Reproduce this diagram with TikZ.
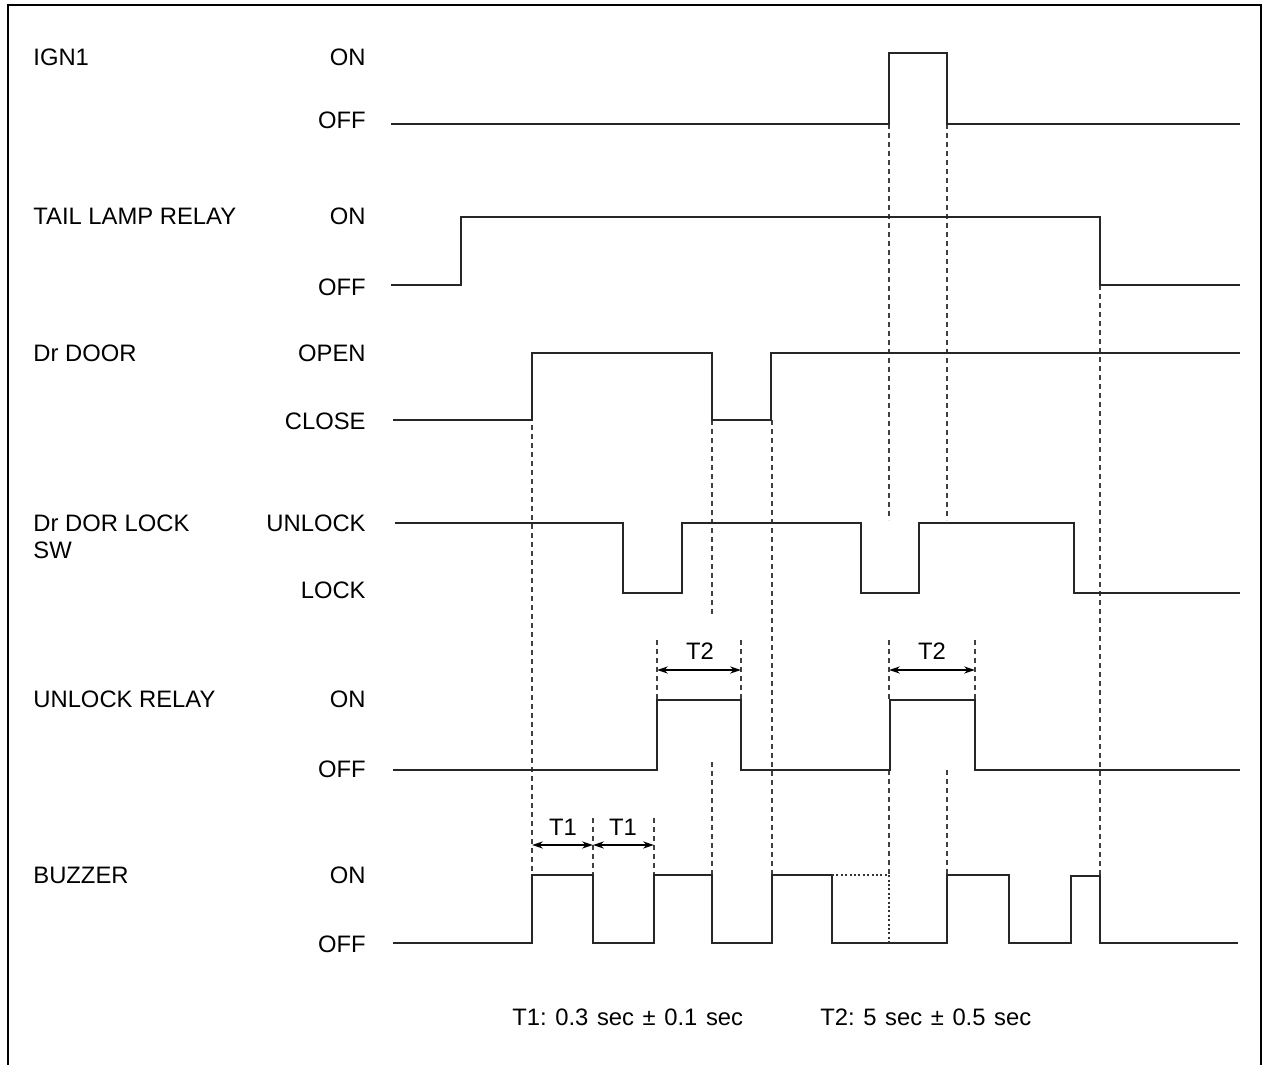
\documentclass[tikz,border=0pt]{standalone}
\usepackage{fontspec}
\setmainfont{Liberation Sans}
\usetikzlibrary{arrows.meta}
\frenchspacing

\begin{document}
\begin{tikzpicture}[x=0.5pt,y=-0.5pt]

    \def\lbl{\fontsize{11.9}{13.5}\selectfont}
    \def\wide{\spaceskip=4.3pt\relax}

    % Styles for the signal traces, guides and time spans
    \tikzset{
        signal/.style={line width=1.3pt, line join=miter, black!85},
        guide/.style={line width=0.9pt, gray!50!black,
            dash pattern=on 2.5pt off 2pt},
        dots/.style={line width=1.1pt, black!80,
            dash pattern=on 1pt off 1.2pt},
        span/.style={line width=0.7pt,
            {Stealth[length=5.5pt,width=3.6pt]}-{Stealth[length=5.5pt,width=3.6pt]}},
        sig/.style={anchor=west, inner sep=0pt, font=\lbl,
            text height=8.5pt, text depth=0pt},
        lvl/.style={anchor=east, inner sep=0pt, font=\lbl,
            text height=8.5pt, text depth=0pt},
        tlbl/.style={inner sep=0pt, font=\lbl,
            text height=8.5pt, text depth=0pt},
        legend/.style={tlbl, anchor=west}
    }

    \useasboundingbox (0,0) rectangle (1266,1065);

    % Frame
    \draw[line width=1.1pt] (8,1070) -- (8,5) -- (1261,5) -- (1261,1070);

    % Signal names
    \node[sig] (ign) at (33,57) {IGN1};
    \node[sig] (tail) at (33,216) {TAIL LAMP RELAY};
    \node[sig] (door) at (33,353) {Dr DOOR};
    \node[sig, anchor=north west, align=left, text height=] (lock)
        at (33,514.5) {Dr DOR LOCK\\SW};
    \node[sig] (relay) at (33,699) {UNLOCK RELAY};
    \node[sig] (buzz) at (33,875) {BUZZER};

    % Levels
    \node[lvl] (ignon) at (366,57) {ON};
    \node[lvl] (ignoff) at (366,120) {OFF};
    \node[lvl] (tailon) at (366,216) {ON};
    \node[lvl] (tailoff) at (366,287) {OFF};
    \node[lvl] (dooropen) at (366,353) {OPEN};
    \node[lvl] (doorclose) at (366,421) {CLOSE};
    \node[lvl] (unlock) at (366,523) {UNLOCK};
    \node[lvl] (lockd) at (366,590) {LOCK};
    \node[lvl] (relayon) at (366,699) {ON};
    \node[lvl] (relayoff) at (366,769) {OFF};
    \node[lvl] (buzzon) at (366,875) {ON};
    \node[lvl] (buzzoff) at (366,944) {OFF};

    % Guides
    \foreach \x/\ya/\yb in {532/353/875, 593/818/875, 654/818/875,
        657/640/700, 741/640/700, 712/420/617, 712/762/875,
        772/420/875, 889/124/520, 889/640/700, 889/770/875,
        947/124/520, 947/770/875, 975/640/700, 1100/285/875}
        \draw[guide] (\x,\ya) -- (\x,\yb);

    % Traces
    \draw[signal] (391,124) -| (889,53) -| (947,124) -- (1240,124);
    \draw[signal] (391,285) -| (461,217) -| (1100,285) -- (1240,285);
    \draw[signal] (393,420) -| (532,353) -| (712,420) -| (771,353)
        -- (1240,353);
    \draw[signal] (395,523) -| (623,593) -| (682,523) -| (861,593)
        -| (919,523) -| (1074,593) -- (1240,593);
    \draw[signal] (393,770) -| (657,700) -| (741,770) -| (890,700)
        -| (975,770) -- (1240,770);
    \draw[signal] (393,943) -| (532,875) -| (593,943) -| (654,875)
        -| (712,943) -| (772,875) -| (832,943) -| (947,875)
        -| (1009,943) -| (1071,876) -| (1100,943) -- (1238,943);
    \draw[dots] (832,875) -| (889,943);

    % Time spans
    \coordinate (t1a) at (532,845);
    \coordinate (t1b) at (593,845);
    \coordinate (t1c) at (654,845);
    \coordinate (t2a) at (657,670);
    \coordinate (t2b) at (741,670);
    \coordinate (t2c) at (889,670);
    \coordinate (t2d) at (975,670);
    \draw[span] (t1a) -- (t1b);
    \draw[span] (t1b) -- (t1c);
    \draw[span] (t2a) -- (t2b);
    \draw[span] (t2c) -- (t2d);
    \node[tlbl] (t1l) at (563,827) {T1};
    \node[tlbl] (t1r) at (623,827) {T1};
    \node[tlbl] (t2l) at (700,651) {T2};
    \node[tlbl] (t2r) at (932,651) {T2};

    % Legend
    \node[legend] (legt1) at (512,1017) {\wide T1: 0.3 sec ± 0.1 sec};
    \node[legend] (legt2) at (820,1017) {\wide T2: 5 sec ± 0.5 sec};

\end{tikzpicture}
\end{document}
